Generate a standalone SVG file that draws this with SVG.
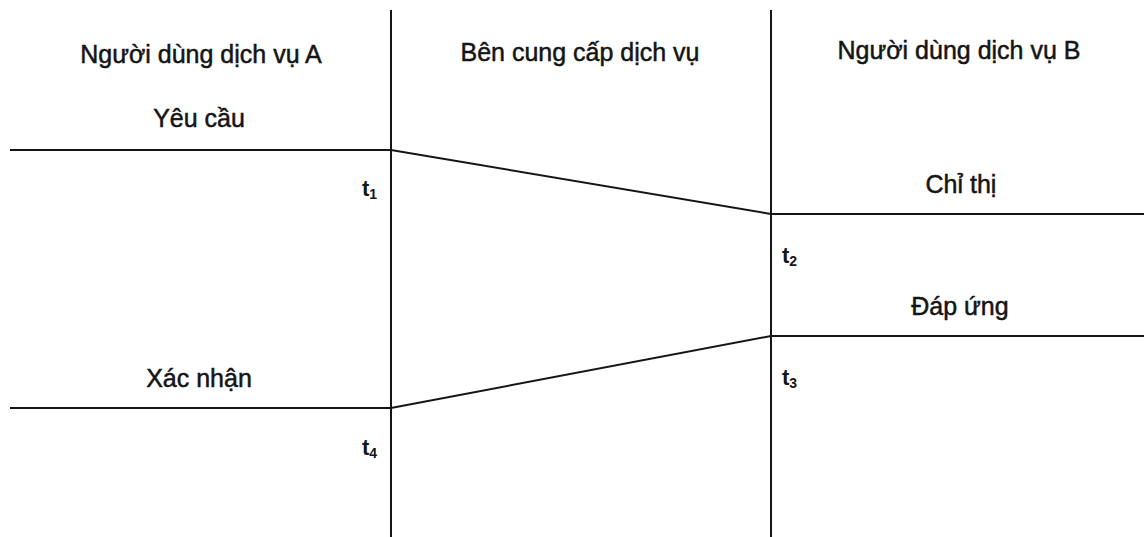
<svg xmlns="http://www.w3.org/2000/svg" width="1144" height="537" viewBox="0 0 1144 537">
<style>
  .t { font-family: "Liberation Sans", Arial, sans-serif; font-size: 25px; fill: #151515; stroke: #151515; stroke-width: 0.5; text-anchor: middle; }
  .tm { font-family: "Liberation Sans", Arial, sans-serif; font-size: 22px; font-weight: bold; fill: #151515; }
  .sub { font-size: 14px; }
  .ln { stroke: #151515; stroke-width: 2; fill: none; }
</style>
<rect width="1144" height="537" fill="#ffffff"/>
<g id="lane-a">
  <text class="t" x="201" y="63">Người dùng dịch vụ A</text>
</g>
<g id="lane-provider">
  <text class="t" x="580" y="61">Bên cung cấp dịch vụ</text>
</g>
<g id="lane-b">
  <text class="t" x="959" y="59">Người dùng dịch vụ B</text>
</g>
<g id="boundaries">
  <line class="ln" x1="391" y1="10" x2="391" y2="537"/>
  <line class="ln" x1="771" y1="10" x2="771" y2="537"/>
</g>
<g id="connectors">
  <polyline class="ln" points="10,150 391,150 771,214 1144,214"/>
  <polyline class="ln" points="1144,336 771,336 391,408 10,408"/>
</g>
<g id="label-yeucau"><text class="t" x="199" y="127">Yêu cầu</text></g>
<g id="label-chithi"><text class="t" x="961" y="193">Chỉ thị</text></g>
<g id="label-dapung"><text class="t" x="960" y="315">Đáp ứng</text></g>
<g id="label-xacnhan"><text class="t" x="199" y="387">Xác nhận</text></g>
<g id="t1"><text class="tm" x="362" y="196">t<tspan class="sub" dy="3">1</tspan></text></g>
<g id="t2"><text class="tm" x="782" y="263">t<tspan class="sub" dy="3">2</tspan></text></g>
<g id="t3"><text class="tm" x="782" y="385">t<tspan class="sub" dy="3">3</tspan></text></g>
<g id="t4"><text class="tm" x="362" y="455">t<tspan class="sub" dy="3">4</tspan></text></g>
</svg>
